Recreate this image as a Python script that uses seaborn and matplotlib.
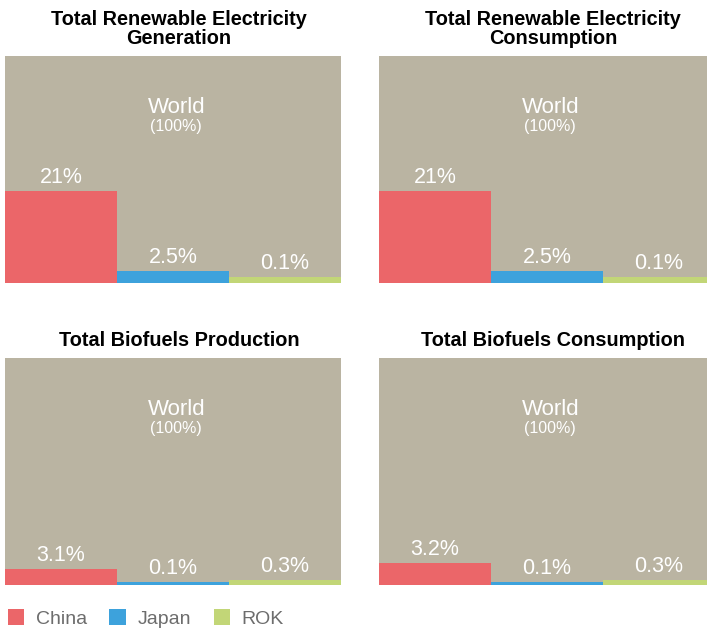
import matplotlib
matplotlib.use('Agg')
import matplotlib.pyplot as plt
import seaborn as sns
import pandas as pd
from matplotlib.patches import Patch

sns.set_style('white')
plt.rcParams['font.family'] = ['Liberation Sans', 'DejaVu Sans']

countries = ['China', 'Japan', 'ROK']
colors = ['#EB6669', '#3DA2DC', '#C2D677']
world_color = '#BAB4A2'

titles = ['Total Renewable Electricity\nGeneration',
          'Total Renewable Electricity\nConsumption',
          'Total Biofuels Production',
          'Total Biofuels Consumption']

# shares as printed on the chart
gen_labels = ['21%', '2.5%', '0.1%']
elc_labels = ['21%', '2.5%', '0.1%']
bpr_labels = ['3.1%', '0.1%', '0.3%']
bco_labels = ['3.2%', '0.1%', '0.3%']

# bar heights as drawn (percent of the World box height)
gen_heights = [40.5, 5.3, 2.6]
elc_heights = [40.5, 5.3, 2.6]
bpr_heights = [7.0, 1.2, 2.2]
bco_heights = [9.7, 1.2, 2.2]

panels = [
    (titles[0], gen_labels, gen_heights),
    (titles[1], elc_labels, elc_heights),
    (titles[2], bpr_labels, bpr_heights),
    (titles[3], bco_labels, bco_heights),
]

fig = plt.figure(figsize=(7.07, 6.28), dpi=100)
W, H = 707, 628
boxes = [(5, 56), (379, 56), (5, 358), (379, 358)]
pw, ph = 336, 227

for (title, labels, heights), (x0, y0) in zip(panels, boxes):
    ax = fig.add_axes([x0 / W, 1 - (y0 + ph) / H, pw / W, ph / H])
    df = pd.DataFrame({'country': countries, 'height': heights})
    sns.barplot(data=df, x='country', y='height', hue='country',
                palette=colors, width=1.0, legend=False, ax=ax,
                saturation=1, edgecolor='none', linewidth=0)
    ax.set_facecolor(world_color)
    ax.set_xlim(-0.5, 2.5)
    ax.set_ylim(0, 100)
    for s in ax.spines.values():
        s.set_visible(False)
    ax.set_xticks([])
    ax.set_yticks([])
    ax.set_xlabel('')
    ax.set_ylabel('')
    ax.set_title(title, fontsize=14.3, fontweight='bold', pad=9, x=0.518,
                 linespacing=1.0, color='black')
    ax.text(0.51, 0.775, 'World', transform=ax.transAxes, ha='center',
            va='center', color='white', fontsize=16)
    ax.text(0.51, 0.688, '(100%)', transform=ax.transAxes, ha='center',
            va='center', color='white', fontsize=11.5)
    for i, (lab, h) in enumerate(zip(labels, heights)):
        ax.annotate(lab, (i, h), xytext=(0, 6), textcoords='offset points',
                    ha='center', va='baseline', color='white', fontsize=15.5)

handles = [Patch(facecolor=c, edgecolor='none') for c in colors]
fig.legend(handles, countries, loc='lower left',
           bbox_to_anchor=(0.0, -0.012), ncol=3, frameon=False, fontsize=14,
           handlelength=0.85, handleheight=0.85, handletextpad=0.6,
           columnspacing=1.15, labelcolor='#6D6D6D', borderaxespad=0.2,
           borderpad=0.2)

fig.savefig('out.png', dpi=100)
